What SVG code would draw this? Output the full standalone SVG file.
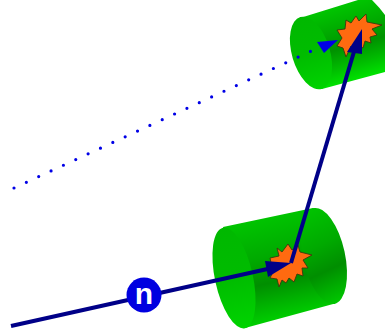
<svg xmlns="http://www.w3.org/2000/svg" width="385" height="333" viewBox="0 0 385 333">
<style>
.star{fill:#ff6a10;stroke:#3a3a10;stroke-width:.9;stroke-linejoin:miter}
.line{fill:none;stroke:#000088;stroke-width:4}
.head{fill:#000088}
.face{fill:url(#faceG)}
text{font-family:"Liberation Sans",Arial,sans-serif;font-weight:bold;fill:#fff}
</style>
<defs>
<linearGradient id="bodyA" gradientUnits="userSpaceOnUse" x1="268" y1="217" x2="290" y2="316">
<stop offset="0" stop-color="#00c400"/><stop offset=".38" stop-color="#00aa00"/><stop offset=".64" stop-color="#008e00"/><stop offset=".82" stop-color="#00ae00"/><stop offset="1" stop-color="#00cc00"/>
</linearGradient>
<linearGradient id="bodyB" gradientUnits="userSpaceOnUse" x1="332" y1="9" x2="352" y2="80">
<stop offset="0" stop-color="#00c400"/><stop offset=".3" stop-color="#00aa00"/><stop offset=".55" stop-color="#009200"/><stop offset=".8" stop-color="#00bc00"/><stop offset="1" stop-color="#00e000"/>
</linearGradient>
<linearGradient id="faceG" x1="0" y1="0" x2="0" y2="1">
<stop offset="0" stop-color="#00b800"/><stop offset=".5" stop-color="#00bc00"/><stop offset="1" stop-color="#00d400"/>
</linearGradient>
</defs>
<g id="cylinder-large">
<path d="M223 227L313 208A19 52 -12.300 0 1 335 303.500L245 328Z" fill="url(#bodyA)"/>
<ellipse cx="324" cy="256" rx="21" ry="49" transform="rotate(-12.300 324 256)" fill="url(#bodyA)"/>
<ellipse class="face" cx="234" cy="278" rx="19" ry="51.500" transform="rotate(-12.300 234 278)"/>
</g>
<g id="cylinder-small">
<path d="M300 18L358 0H372Q380 8 385 15V72L322 89Z" fill="url(#bodyB)"/>
<ellipse class="face" cx="311" cy="53" rx="19" ry="37.500" transform="rotate(-16.500 311 53)"/>
</g>
<g id="star-large">
<polygon class="star" points="277,248 282,252 288,244 292,250 298,245 300,252 312,255 303,260 308,268 302,268 303,276 297,274 294,282 289,278 286,283 282,280 279,287 277,279 270,278 273,272 270,258 279,256"/>
</g>
<g id="star-small">
<polygon class="star" points="346,20 351,23 356,16 359,21 366,14 367,22 382,25 372,29 377,35 370,37 371,43 365,41 363,48 358,45 353,50 351,46 346,57 343,48 337,46 342,38 337,30 345,29"/>
</g>
<g id="connectors">
<line x1="14" y1="188" x2="320" y2="47" stroke="#0000e6" stroke-width="3.200" stroke-linecap="round" stroke-dasharray="0 13.600"/>
<polygon points="338,40 317,42 324,53" fill="#0000e6"/>
<line class="line" x1="11" y1="326" x2="272" y2="268"/>
<polygon class="head" points="291,263 265,261 268,277"/>
<line class="line" x1="291" y1="263" x2="356" y2="45"/>
<polygon class="head" points="362,29 347,52 362,54"/>
</g>
<g id="node-n">
<circle cx="144" cy="295" r="17.500" fill="#0000e0"/>
<text x="144" y="303.500" font-size="30" text-anchor="middle">n</text>
</g>
</svg>
